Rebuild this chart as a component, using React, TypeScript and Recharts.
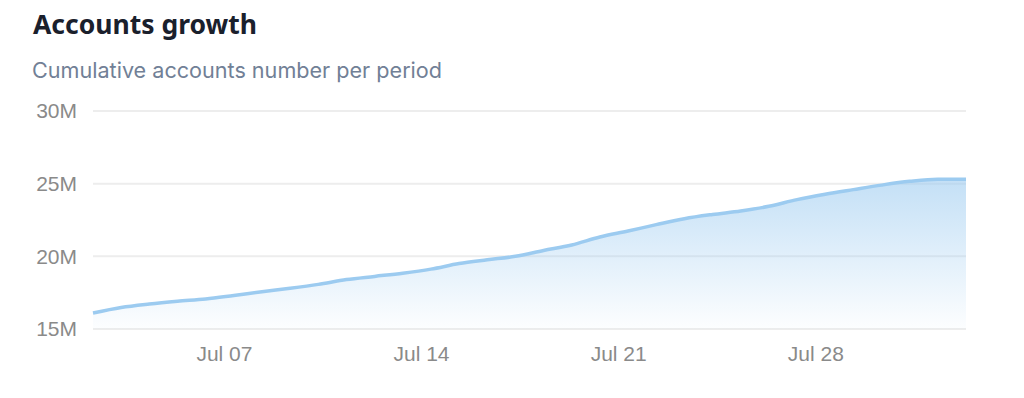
import React from 'react';
import { AreaChart, Area, XAxis, YAxis, CartesianGrid } from 'recharts';

// Daily samples (taken at 08:00 UTC), Jul 02 – Aug 02
const dates = [
  '2024-07-02', '2024-07-03', '2024-07-04', '2024-07-05', '2024-07-06', '2024-07-07',
  '2024-07-08', '2024-07-09', '2024-07-10', '2024-07-11', '2024-07-12', '2024-07-13',
  '2024-07-14', '2024-07-15', '2024-07-16', '2024-07-17', '2024-07-18', '2024-07-19',
  '2024-07-20', '2024-07-21', '2024-07-22', '2024-07-23', '2024-07-24', '2024-07-25',
  '2024-07-26', '2024-07-27', '2024-07-28', '2024-07-29', '2024-07-30', '2024-07-31',
  '2024-08-01', '2024-08-02',
];

// Cumulative accounts, in millions
const accountsM = [
  16.10, 16.48, 16.72, 16.91, 17.07, 17.31,
  17.56, 17.80, 18.07, 18.40, 18.62, 18.84,
  19.12, 19.50, 19.76, 20.00, 20.40, 20.78,
  21.33, 21.74, 22.18, 22.59, 22.88, 23.12,
  23.44, 23.90, 24.27, 24.59, 24.90, 25.16,
  25.31, 25.31,
];

const yTicks = [15000000, 20000000, 25000000, 30000000];
const xTickDates = ['2024-07-07', '2024-07-14', '2024-07-21', '2024-07-28'];
const monthNames = ['Jan', 'Feb', 'Mar', 'Apr', 'May', 'Jun', 'Jul', 'Aug', 'Sep', 'Oct', 'Nov', 'Dec'];

const toTs = (d: string, hour: number) => {
  const [y, m, day] = d.split('-').map(Number);
  return Date.UTC(y, m - 1, day, hour);
};

const data = dates.map((d, i) => ({ t: toTs(d, 8), accounts: accountsM[i] * 1000000 }));
const xTicks = xTickDates.map((d) => toTs(d, 0));

const fmtDate = (v: number) => {
  const dt = new Date(v);
  const dd = String(dt.getUTCDate()).padStart(2, '0');
  return `${monthNames[dt.getUTCMonth()]} ${dd}`;
};
const fmtM = (v: number) => `${Math.round(v / 1000000)}M`;

const LINE = '#9ccbf0';
const tickStyle = { fill: '#8a8a8a', fontSize: 21, fontFamily: '"Liberation Sans", Arial, sans-serif' };

export default function App() {
  return (
    <div style={{ position: 'absolute', left: 0, top: 0, width: 1024, height: 398, background: '#fff', overflow: 'hidden' }}>
      <div
        style={{
          position: 'absolute',
          left: 33,
          top: 5,
          fontFamily: '"Noto Sans", "Open Sans", sans-serif',
          fontWeight: 700,
          fontSize: 26.5,
          color: '#1a202c',
          whiteSpace: 'nowrap',
          lineHeight: '38px',
        }}
      >
        Accounts growth
      </div>
      <div
        style={{
          position: 'absolute',
          left: 32,
          top: 55,
          fontFamily: 'Inter, "Noto Sans", sans-serif',
          fontWeight: 400,
          fontSize: 21.6,
          color: '#718096',
          whiteSpace: 'nowrap',
          lineHeight: '30px',
        }}
      >
        Cumulative accounts number per period
      </div>
      <div style={{ position: 'absolute', left: 0, top: 0 }}>
        <AreaChart width={1024} height={398} data={data} margin={{ top: 111, right: 58, bottom: 0, left: 0 }}>
          <defs>
            <linearGradient id="accFill" x1="0" y1="0" x2="0" y2="1">
              <stop offset="0%" stopColor={LINE} stopOpacity={1} />
              <stop offset="100%" stopColor={LINE} stopOpacity={0.04} />
            </linearGradient>
          </defs>
          <CartesianGrid vertical={false} stroke="#ededed" strokeWidth={2} />
          <XAxis
            dataKey="t"
            type="number"
            scale="time"
            domain={['dataMin', 'dataMax']}
            ticks={xTicks}
            tickFormatter={fmtDate}
            axisLine={false}
            tickLine={false}
            tickSize={0}
            tickMargin={17}
            height={69}
            tick={tickStyle}
          />
          <YAxis
            type="number"
            domain={[15000000, 30000000]}
            ticks={yTicks}
            tickFormatter={fmtM}
            axisLine={false}
            tickLine={false}
            tickSize={0}
            tickMargin={16}
            width={93}
            tick={tickStyle}
          />
          <Area
            type="monotone"
            dataKey="accounts"
            stroke={LINE}
            strokeWidth={3.5}
            fill="url(#accFill)"
            isAnimationActive={false}
            dot={false}
            activeDot={false}
          />
        </AreaChart>
      </div>
    </div>
  );
}
